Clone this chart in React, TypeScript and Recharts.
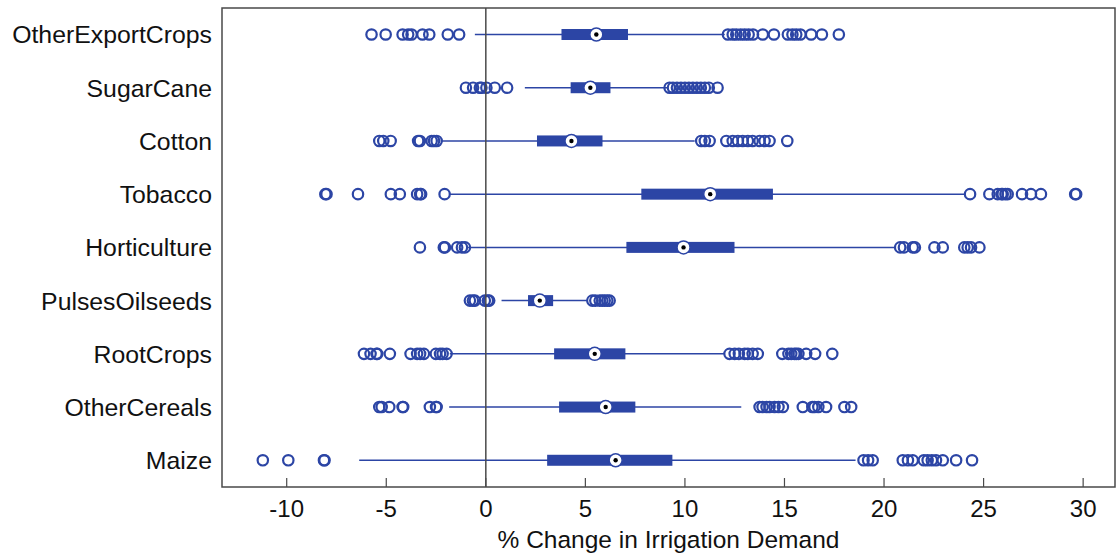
import { ComposedChart, Bar, XAxis, YAxis, ReferenceLine, ReferenceArea } from 'recharts';

const crops = [
  'OtherExportCrops', 'SugarCane', 'Cotton', 'Tobacco', 'Horticulture',
  'PulsesOilseeds', 'RootCrops', 'OtherCereals', 'Maize',
];

const whiskerLow = [-0.55, 1.96, -2.22, -1.85, -0.89, 0.79, -1.81, -1.84, -6.36];
const quartile1 = [3.8, 4.26, 2.57, 7.81, 7.06, 2.12, 3.43, 3.68, 3.08];
const medians = [5.55, 5.25, 4.3, 11.27, 9.93, 2.71, 5.47, 6.02, 6.52];
const quartile3 = [7.14, 6.26, 5.86, 14.42, 12.49, 3.38, 7.01, 7.51, 9.37];
const whiskerHigh = [12.0, 9.1, 10.49, 24.05, 20.6, 5.13, 12.0, 12.83, 18.57];

const outliers = [
  [-5.74, -5.03, -4.18, -3.9, -3.73, -3.18, -2.84, -1.91, -1.34,
    12.16, 12.4, 12.58, 12.8, 13.0, 13.2, 13.42, 13.91, 14.47, 15.17, 15.4, 15.59, 15.8, 16.34, 16.88, 17.73],
  [-1.0, -0.64, -0.3, -0.22, 0.03, 0.45, 1.07,
    9.23, 9.4, 9.6, 9.8, 10.0, 10.2, 10.4, 10.6, 10.8, 11.0, 11.2, 11.64],
  [-5.35, -5.15, -4.78, -3.4, -3.31, -2.72, -2.6, -2.47,
    10.82, 11.0, 11.24, 12.08, 12.4, 12.66, 12.9, 13.16, 13.4, 13.75, 14.0, 14.25, 15.14],
  [-8.06, -8.0, -6.42, -4.77, -4.32, -3.45, -3.3, -3.25, -2.07,
    24.32, 25.29, 25.71, 25.9, 25.96, 26.1, 26.21, 26.93, 27.38, 27.88, 29.6, 29.65],
  [-3.31, -2.11, -2.05, -1.44, -1.2, -1.05,
    20.81, 21.0, 21.44, 21.55, 22.53, 22.95, 24.03, 24.2, 24.37, 24.79],
  [-0.8, -0.65, -0.55, -0.05, 0.1, 0.17,
    5.35, 5.5, 5.72, 5.85, 5.97, 6.1, 6.22],
  [-6.12, -5.79, -5.49, -5.45, -4.82, -3.78, -3.45, -3.3, -3.11, -2.51, -2.3, -2.17, -1.97,
    12.24, 12.5, 12.71, 13.0, 13.16, 13.4, 13.66, 14.89, 15.2, 15.34, 15.5, 15.59, 15.7, 16.09, 16.54, 17.4],
  [-5.35, -5.23, -4.85, -4.18, -4.15, -2.81, -2.5, -2.47,
    13.75, 13.9, 14.1, 14.25, 14.5, 14.7, 14.92, 15.92, 16.4, 16.51, 16.7, 17.09, 18.01, 18.35],
  [-11.2, -9.92, -8.13, -8.1,
    18.97, 19.2, 19.43, 20.94, 21.2, 21.44, 22.0, 22.19, 22.4, 22.61, 22.95, 23.62, 24.42],
];

const xTicks = [-10, -5, 0, 5, 10, 15, 20, 25, 30];
const xDomain = [-13.25, 31.6];

const BLUE = '#2c45a5';
const FRAME = '#4a4a4a';
const FONT = '"Liberation Sans", Arial, sans-serif';

const data = crops.map((name, i) => ({
  name,
  range: [whiskerLow[i], whiskerHigh[i]],
  q1: quartile1[i],
  median: medians[i],
  q3: quartile3[i],
  outliers: outliers[i],
}));

// the bar spans the whiskers; everything else is placed from that span
function BoxShape(props: any) {
  const { x, y, width, height, payload } = props;
  const [lo, hi] = payload.range;
  const px = (v: number) => x + ((v - lo) * width) / (hi - lo);
  const cy = y + height / 2;
  return (
    <g>
      <line x1={px(lo)} x2={px(hi)} y1={cy} y2={cy} stroke={BLUE} strokeWidth={1.5} />
      <rect x={px(payload.q1)} y={cy - 5.5} width={px(payload.q3) - px(payload.q1)} height={11} fill={BLUE} />
      {payload.outliers.map((v: number, k: number) => (
        <circle key={k} cx={px(v)} cy={cy} r={5.2} fill="none" stroke={BLUE} strokeWidth={2.2} />
      ))}
      <circle cx={px(payload.median)} cy={cy} r={6.5} fill="#fff" stroke={BLUE} strokeWidth={1.5} />
      <circle cx={px(payload.median)} cy={cy} r={2.2} fill="#000" />
    </g>
  );
}

function BottomTick(props: any) {
  const { x, y, payload } = props;
  return (
    <g>
      <line x1={x} x2={x} y1={y} y2={y - 9} stroke={FRAME} strokeWidth={1.2} />
      <text x={x} y={y + 30} textAnchor="middle" fontSize={24} fontFamily={FONT} fill="#111">
        {payload.value}
      </text>
    </g>
  );
}

function TopTick(props: any) {
  const { x, y } = props;
  return <line x1={x} x2={x} y1={y} y2={y + 9} stroke={FRAME} strokeWidth={1.2} />;
}

export default function App() {
  return (
    <div style={{ position: 'absolute', left: 0, top: 0, background: '#fff' }}>
      <ComposedChart
        width={1116}
        height={559}
        data={data}
        layout="vertical"
        margin={{ top: 8, right: 1, bottom: 0, left: 0 }}
        barCategoryGap={0}
      >
        <XAxis
          type="number"
          domain={xDomain}
          ticks={xTicks}
          allowDataOverflow
          height={72}
          axisLine={false}
          tickLine={false}
          tickSize={0}
          tickMargin={0}
          tick={<BottomTick />}
          label={{ value: '% Change in Irrigation Demand', position: 'insideBottom', offset: 11, fontSize: 24.5, fontFamily: FONT, fill: '#111' }}
        />
        <XAxis
          xAxisId="top"
          orientation="top"
          type="number"
          domain={xDomain}
          ticks={xTicks}
          allowDataOverflow
          height={0}
          axisLine={false}
          tickLine={false}
          tickSize={0}
          tickMargin={0}
          tick={<TopTick />}
        />
        <YAxis
          type="category"
          dataKey="name"
          width={222}
          axisLine={false}
          tickLine={false}
          tickSize={0}
          tickMargin={10}
          tick={{ fontSize: 24.8, fontFamily: FONT, fill: '#111' }}
          interval={0}
        />
        <ReferenceArea x1={xDomain[0]} x2={xDomain[1]} fill="none" stroke={FRAME} strokeWidth={1.5} fillOpacity={0} ifOverflow="extendDomain" />
        <ReferenceLine x={0} stroke={FRAME} strokeWidth={1.5} />
        <Bar dataKey="range" barSize={11} shape={<BoxShape />} isAnimationActive={false} />
      </ComposedChart>
    </div>
  );
}
